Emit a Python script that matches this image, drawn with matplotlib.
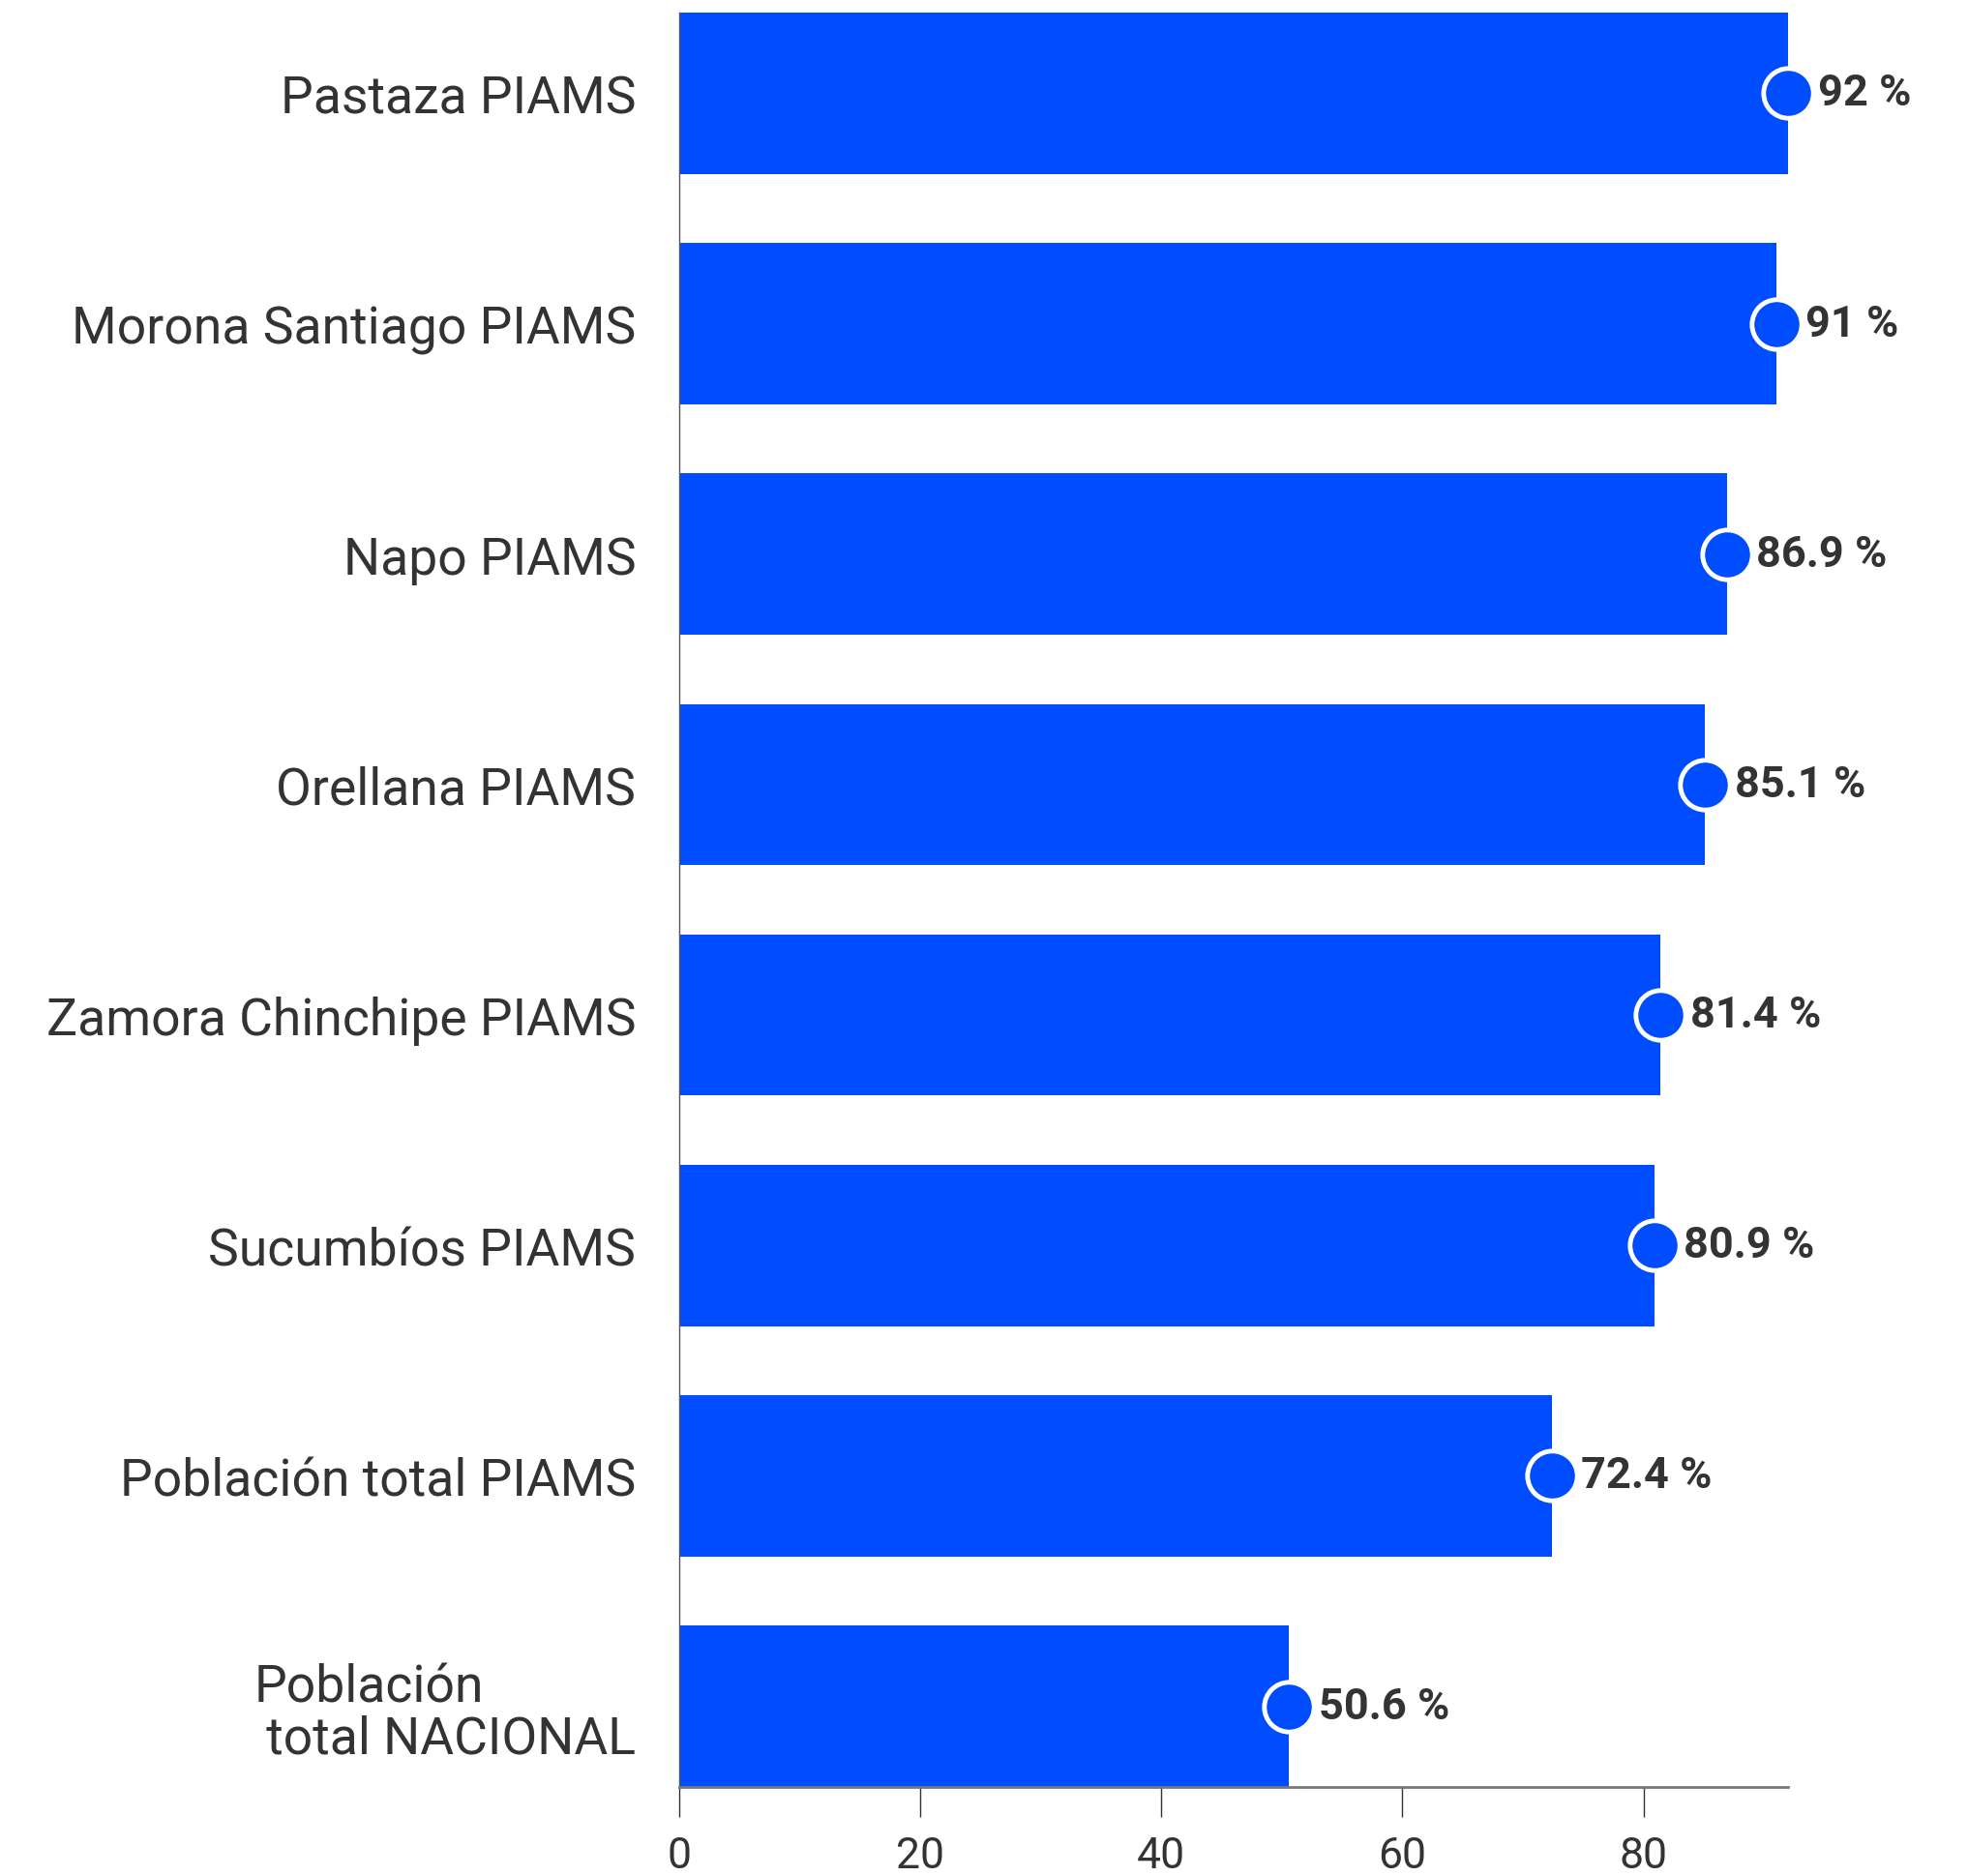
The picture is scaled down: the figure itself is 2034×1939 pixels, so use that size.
import matplotlib
matplotlib.use("Agg")
import matplotlib.pyplot as plt

categories = [
    "Pastaza PIAMS",
    "Morona Santiago PIAMS",
    "Napo PIAMS",
    "Orellana PIAMS",
    "Zamora Chinchipe PIAMS",
    "Sucumbíos PIAMS",
    "Población total PIAMS",
    "Población\n total NACIONAL",
]
values = [92, 91, 86.9, 85.1, 81.4, 80.9, 72.4, 50.6]
value_labels = ["92 %", "91 %", "86.9 %", "85.1 %", "81.4 %", "80.9 %", "72.4 %", "50.6 %"]
xticks = [0, 20, 40, 60, 80]

BAR = "#004cff"
TEXT = "#333333"

plt.rcParams["font.family"] = ["Roboto", "DejaVu Sans"]

fig = plt.figure(figsize=(20.34, 19.40), dpi=100)
ax = fig.add_axes([0.345, 0.0474, 0.9086 - 0.345, 0.9928 - 0.0474])

pos = list(range(len(categories)))
ax.barh(pos, values, height=0.7, color=BAR, zorder=2)
ax.plot(values, pos, "o", ms=37, mfc=BAR, mec="white", mew=3.5, zorder=3, clip_on=False)
for v, y, t in zip(values, pos, value_labels):
    ax.annotate(t, (v, y), xytext=(22, 0), textcoords="offset points",
                ha="left", va="center", fontsize=32.5, fontweight="bold", color=TEXT)

ax.set_ylim(len(categories) - 1 + 0.35, -0.35)
ax.set_xlim(0, max(values))
ax.set_yticks(pos)
ax.set_yticklabels(categories, fontsize=38.5, color=TEXT, linespacing=1.05)
for lbl in ax.get_yticklabels():
    lbl.set_multialignment("left")
ax.tick_params(axis="y", length=0, pad=32)
ax.set_xticks(xticks)
ax.set_xticklabels([str(t) for t in xticks], fontsize=32, color=TEXT)
ax.tick_params(axis="x", length=22, width=1, color="#333333", pad=14)

for s in ["top", "right"]:
    ax.spines[s].set_visible(False)
ax.spines["left"].set_color("#555555")
ax.spines["left"].set_linewidth(1)
ax.spines["bottom"].set_color("#777777")
ax.spines["bottom"].set_linewidth(2)
ax.spines["bottom"].set_zorder(4)

fig.savefig("out.png", dpi=100, facecolor="white")
